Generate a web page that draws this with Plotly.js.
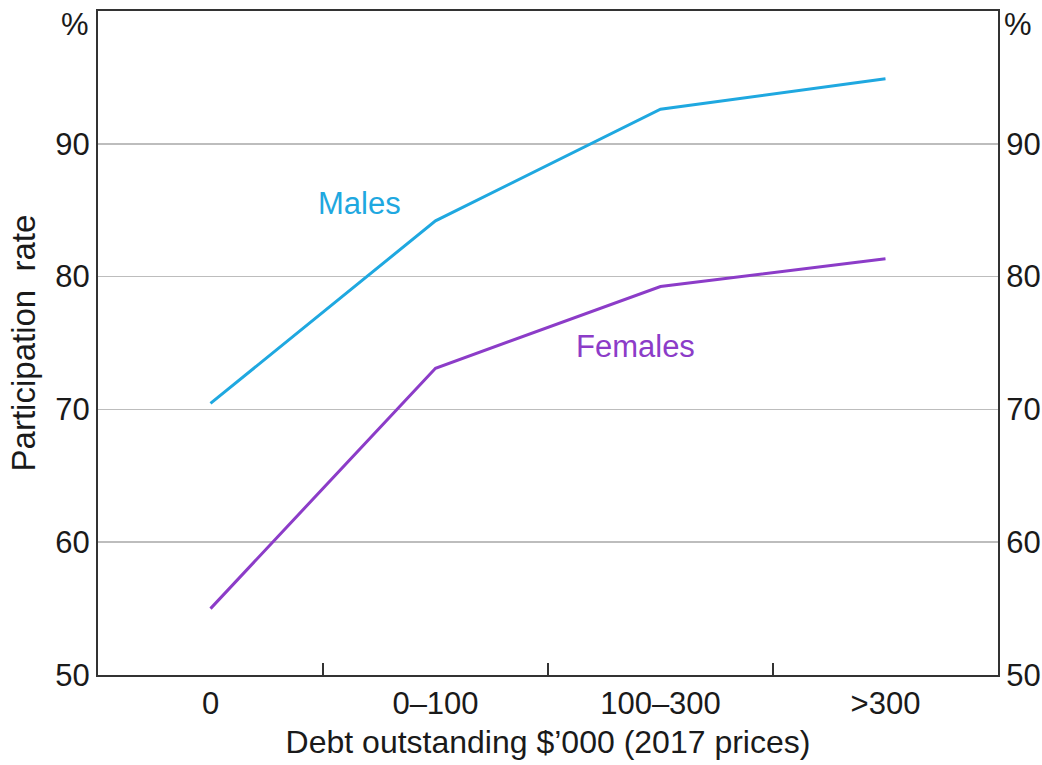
<!DOCTYPE html>
<html>
<head>
<meta charset="utf-8">
<script src="https://cdn.plot.ly/plotly-3.0.1.min.js"></script>
<style>html,body{margin:0;padding:0;background:#fff;}#chart{width:1042px;height:765px;}</style>
</head>
<body>
<div id="chart"></div>
<script>
const categories = ["0", "0\u2013100", "100\u2013300", ">300"];
const males = [70.45, 84.2, 92.6, 94.9];
const females = [55.0, 73.1, 79.25, 81.35];
const yTicks = [50, 60, 70, 80, 90];

const FONT = '"Liberation Sans", Arial, sans-serif';
const BLUE = '#1fa8e0';
const PURPLE = '#8c3cc8';
const TXT = '#1a1a1a';

const traces = [
  {x: categories, y: males, type: 'scatter', mode: 'lines', line: {color: BLUE, width: 3}, hoverinfo: 'skip'},
  {x: categories, y: females, type: 'scatter', mode: 'lines', line: {color: PURPLE, width: 3}, hoverinfo: 'skip'},
  {x: categories, y: males, type: 'scatter', mode: 'none', yaxis: 'y2', hoverinfo: 'skip', showlegend: false}
];

const layout = {
  width: 1042, height: 765,
  margin: {l: 98, r: 44, t: 11, b: 90},
  paper_bgcolor: '#fff', plot_bgcolor: '#fff',
  showlegend: false,
  font: {family: FONT, size: 31, color: TXT},
  xaxis: {
    type: 'category',
    range: [-0.5, 3.5],
    tickson: 'boundaries',
    ticks: 'inside', ticklen: 12, tickwidth: 1.5, tickcolor: '#333',
    showline: true, linecolor: '#333', linewidth: 2, mirror: true,
    showgrid: false, zeroline: false,
    tickfont: {family: FONT, size: 31, color: TXT},
    title: {text: "Debt outstanding $\u2019000 (2017 prices)", font: {family: FONT, size: 32, color: TXT}, standoff: 10}
  },
  yaxis: {
    range: [50, 100], tickvals: yTicks, ticktext: yTicks.map(String),
    ticks: '', showline: true, linecolor: '#333', linewidth: 2,
    showgrid: true, gridcolor: '#bdbdbd', gridwidth: 1.5, zeroline: false,
    tickfont: {family: FONT, size: 31, color: TXT},
    title: {text: 'Participation  rate', font: {family: FONT, size: 33, color: TXT}, standoff: 10}
  },
  yaxis2: {
    range: [50, 100], tickvals: yTicks, ticktext: yTicks.map(String),
    overlaying: 'y', side: 'right', ticks: '',
    showline: true, linecolor: '#333', linewidth: 2,
    showgrid: false, zeroline: false,
    tickfont: {family: FONT, size: 31, color: TXT}
  },
  annotations: [
    {text: 'Males', x: 0.66, y: 85.5, xref: 'x', yref: 'y', showarrow: false, font: {family: FONT, size: 31, color: BLUE}},
    {text: 'Females', x: 1.89, y: 74.7, xref: 'x', yref: 'y', showarrow: false, font: {family: FONT, size: 31, color: PURPLE}},
    {text: '%', x: -0.026, y: 0.979, xref: 'paper', yref: 'paper', xanchor: 'center', yanchor: 'middle', showarrow: false, font: {family: FONT, size: 31, color: TXT}},
    {text: '%', x: 1.022, y: 0.979, xref: 'paper', yref: 'paper', xanchor: 'center', yanchor: 'middle', showarrow: false, font: {family: FONT, size: 31, color: TXT}}
  ]
};

Plotly.newPlot('chart', traces, layout, {staticPlot: true, displayModeBar: false});
</script>
</body>
</html>
